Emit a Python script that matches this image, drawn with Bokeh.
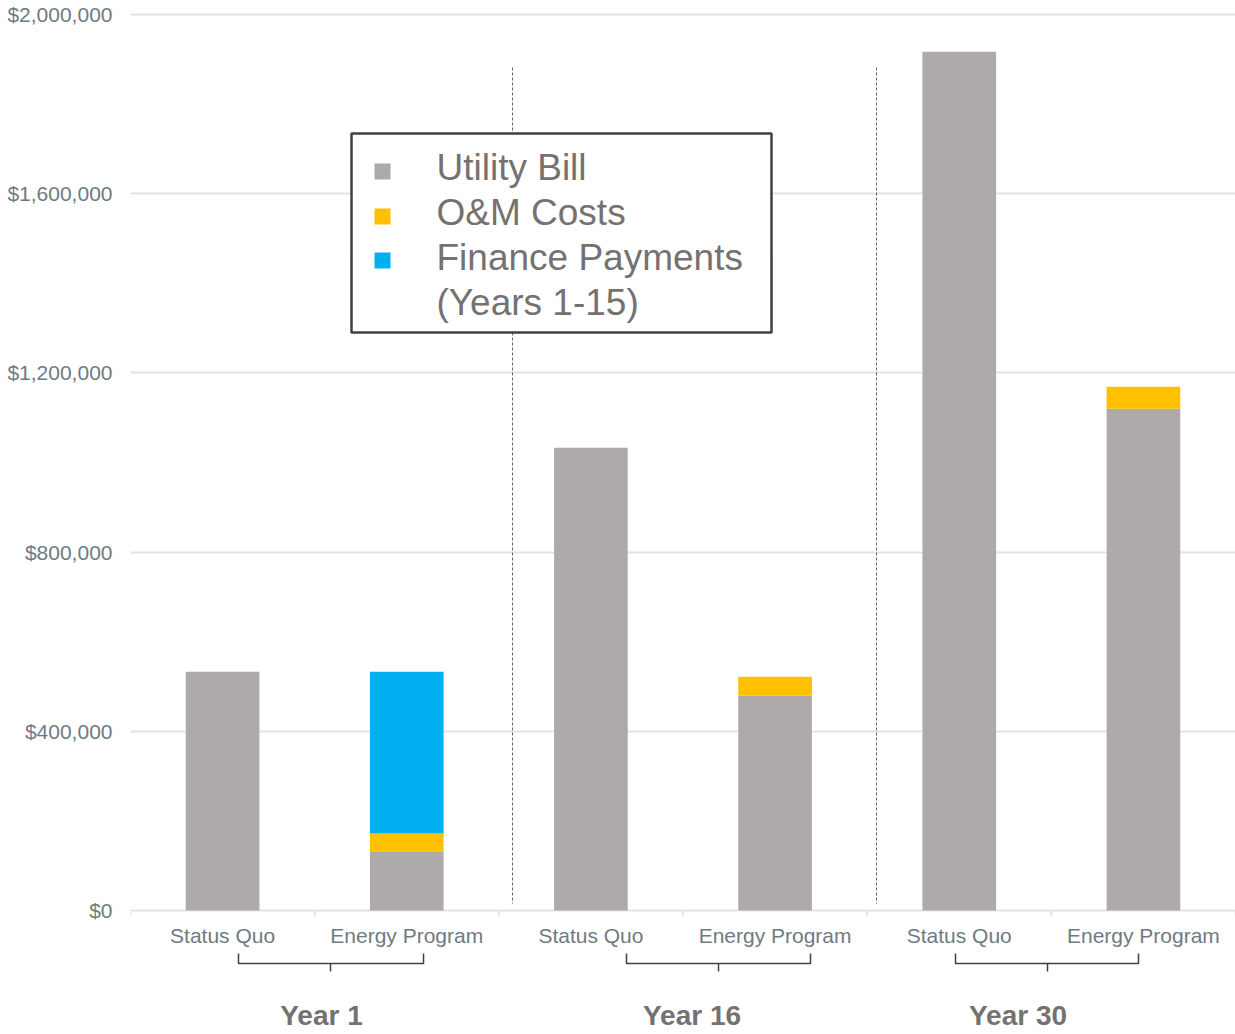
from bokeh.plotting import figure
from bokeh.models import Range1d, FixedTicker, NumeralTickFormatter, ColumnDataSource
from bokeh.core.properties import value
from bokeh.embed import file_html
from bokeh.resources import INLINE

# ---------------- data ----------------
groups = ["Year 1", "Year 16", "Year 30"]
scenarios = ["Status Quo", "Energy Program", "Status Quo", "Energy Program", "Status Quo", "Energy Program"]
utility_bill = [533000, 132000, 1033000, 480000, 1917000, 1120000]
om_costs = [0, 40000, 0, 42000, 0, 49000]
finance_payments = [0, 361000, 0, 0, 0, 0]
y_ticks = [0, 400000, 800000, 1200000, 1600000, 2000000]
legend_labels = ["Utility Bill", "O&M Costs", "Finance Payments", "(Years 1-15)"]

# ---------------- layout helpers ----------------
W, H = 1235, 1034
FRAME_LEFT = 130
ZERO_IMG = 910           # image y of $0
PX_PER_UNIT = 448 / 1e6  # pixels per dollar
SLOT_PX = (W - FRAME_LEFT) / 6


def yv(img_y):
    """data value for an image-y position"""
    return (ZERO_IMG - img_y) / PX_PER_UNIT


def yb(img_baseline, fs):
    """data value placing a text's alphabetic baseline at an image-y position"""
    return yv(img_baseline - 0.39 * fs)


def xs_(img_x):
    return (img_x - FRAME_LEFT) / SLOT_PX


y_min = yv(H)
y_max = yv(0)

C_UB, C_OM, C_FP = "#AEAAAA", "#FFC000", "#00B0F0"
TXT_AXIS = "#6E7B82"
TXT_DARK = "#767171"
FONT = value("Liberation Sans")

p = figure(width=W, height=H, x_range=Range1d(0, 6), y_range=Range1d(y_min, y_max),
           output_backend="svg", toolbar_location=None, x_axis_location=None,
           min_border_left=FRAME_LEFT, min_border_right=0, min_border_top=0, min_border_bottom=0)
p.outline_line_color = None
p.background_fill_color = "white"
p.border_fill_color = "white"

yax = p.yaxis[0]
yax.ticker = FixedTicker(ticks=y_ticks)
yax.formatter = NumeralTickFormatter(format="$0,0")
yax.axis_line_color = None
yax.major_tick_line_color = None
yax.minor_tick_line_color = None
yax.major_tick_in = 0
yax.major_tick_out = 0
yax.major_label_standoff = 18
yax.major_label_text_font = "Liberation Sans"
yax.major_label_text_font_size = "21px"
yax.major_label_text_color = TXT_AXIS

p.ygrid.grid_line_color = "#E2E5E5"
p.ygrid.grid_line_width = 2
p.xgrid.visible = False

# ---------------- bars ----------------
x_centers = [i + 0.5 for i in range(len(scenarios))]
src = ColumnDataSource(dict(x=x_centers, ub=utility_bill, om=om_costs, fp=finance_payments))
p.vbar_stack(["ub", "om", "fp"], x="x", width=0.4, source=src,
             color=[C_UB, C_OM, C_FP], line_color=None)

# bottom tick marks at slot boundaries
bounds = list(range(len(scenarios) + 1))
p.segment(x0=bounds, x1=bounds, y0=[0] * len(bounds), y1=[yv(ZERO_IMG + 6)] * len(bounds),
          line_color="#E2E5E5", line_width=2)

# dashed dividers between years
div_x = [xs_(512), xs_(876)]
p.segment(x0=div_x, x1=div_x, y0=[yv(67)] * 2, y1=[yv(903)] * 2,
          line_color="#5B6770", line_width=1, line_dash="3 2")

# ---------------- legend (drawn) ----------------
p.quad(left=[xs_(351)], right=[xs_(771)], top=[yv(133)], bottom=[yv(332)],
       fill_color="white", line_color="#404040", line_width=2.5)
p.scatter(x=[xs_(382)] * 3, y=[yv(171), yv(216), yv(260)],
          marker="square", size=16, fill_color=[C_UB, C_OM, C_FP], line_color=None)
LFS = 37
p.text(x=[xs_(436)] * 4, y=[yb(181, LFS), yb(226, LFS), yb(271, LFS), yb(316, LFS)],
       text=legend_labels, text_font=FONT, text_font_size=f"{LFS}px", text_color=TXT_DARK,
       text_baseline="alphabetic", text_align="left")

# ---------------- category labels ----------------
CFS = 21
p.text(x=x_centers, y=[yb(943, CFS)] * len(scenarios), text=scenarios, text_font=FONT,
       text_font_size=f"{CFS}px", text_color=TXT_AXIS, text_align="center", text_baseline="alphabetic")

# braces
brace_l = [xs_(238), xs_(626), xs_(955)]
brace_r = [xs_(423), xs_(810), xs_(1138)]
brace_c = [xs_(330), xs_(718), xs_(1047)]
y_top, y_bot, y_notch = yv(953), yv(963), yv(971)
bx, by = [], []
for l, r, c in zip(brace_l, brace_r, brace_c):
    bx.append([l, l, r, r]); by.append([y_top, y_bot, y_bot, y_top])
    bx.append([c, c]); by.append([y_bot, y_notch])
p.multi_line(xs=bx, ys=by, line_color="#404040", line_width=1.5)

# group labels
GFS = 28
p.text(x=[xs_(321), xs_(691.5), xs_(1017.5)], y=[yb(1026, GFS)] * 3, text=groups,
       text_font=FONT, text_font_size=f"{GFS}px", text_font_style="bold", text_color=TXT_DARK,
       text_align="center", text_baseline="alphabetic")

open("out.html", "w").write(file_html(p, INLINE))
